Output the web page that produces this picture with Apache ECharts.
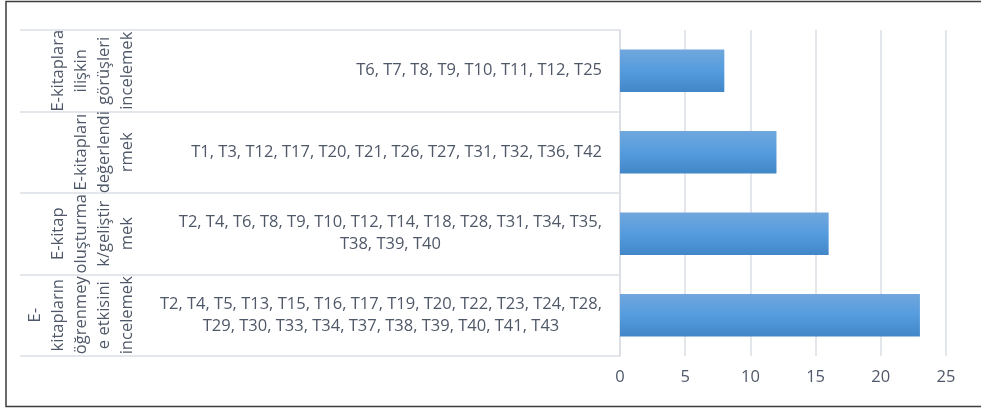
<!DOCTYPE html>
<html>
<head>
<meta http-equiv="Content-Type" content="text/html; charset=UTF-8">
<title>E-kitap</title>
<script type="text/javascript" src="https://cdn.jsdelivr.net/npm/echarts@6/dist/echarts.min.js"></script>
<style>
    body { margin: 0; background: #fff; }
</style>
</head>
<body>
    <div id="main" style="width: 981px; height: 409px;"></div>
    <script type="text/javascript">
        // ust seviye kategoriler (dondurulmus etiketler), yukaridan asagi
        var groups = [
            'E-kitaplara\nilişkin\ngörüşleri\nincelemek',
            'E-kitapları\ndeğerlendi\nrmek',
            'E-kitap\noluşturma\nk/geliştir\nmek',
            'E-\nkitapların\nöğrenmey\ne etkisini\nincelemek'
        ];
        // alt seviye: calisma kodlari (satir kirilimlari resimdeki gibi)
        var studies = [
            'T6, T7, T8, T9, T10, T11, T12, T25',
            'T1, T3, T12, T17, T20, T21, T26, T27, T31, T32, T36, T42',
            'T2, T4, T6, T8, T9, T10, T12, T14, T18, T28, T31, T34, T35,\nT38, T39, T40',
            'T2, T4, T5, T13, T15, T16, T17, T19, T20, T22, T23, T24, T28,\nT29, T30, T33, T34, T37, T38, T39, T40, T41, T43'
        ];
        var counts = [8, 12, 16, 23];
        var xTicks = { min: 0, max: 25, interval: 5 };

        var textColor = '#4f5868';
        var lineColor = '#dadee5';
        var font = '"Open Sans", sans-serif';

        var myChart = echarts.init(document.getElementById('main'));
        myChart.setOption({
            animation: false,
            textStyle: { fontFamily: font },
            graphic: [{
                type: 'rect',
                shape: { x: 6, y: 1.5, width: 1000, height: 405 },
                style: { fill: 'none', stroke: '#3d3d3d', lineWidth: 1.5 },
                silent: true
            }],
            grid: {
                left: 620,
                right: 35,
                top: 30,
                bottom: 53,
                containLabel: false,
                outerBoundsMode: 'none'
            },
            xAxis: {
                type: 'value',
                min: xTicks.min,
                max: xTicks.max,
                interval: xTicks.interval,
                axisLine: { show: false },
                axisTick: { show: false },
                splitLine: { lineStyle: { color: lineColor, width: 1.5 } },
                axisLabel: { color: textColor, fontSize: 16.5, fontFamily: font, margin: 13 }
            },
            yAxis: [{
                type: 'category',
                data: studies,
                inverse: true,
                position: 'left',
                axisLine: { show: true, lineStyle: { color: lineColor, width: 1.5 } },
                axisTick: { show: true, length: 600, lineStyle: { color: lineColor, width: 1.5 } },
                splitLine: { show: false },
                axisLabel: {
                    interval: 0,
                    margin: 18,
                    color: textColor,
                    fontSize: 16.5,
                    fontFamily: font,
                    lineHeight: 22,
                    formatter: function (value) {
                        return value.split('\n').map(function (s) {
                            return '{c|' + s + '}';
                        }).join('\n');
                    },
                    rich: {
                        c: { align: 'center', color: textColor, fontSize: 16.5, fontFamily: font, lineHeight: 22 }
                    }
                }
            }, {
                type: 'category',
                data: groups,
                inverse: true,
                position: 'left',
                offset: 473,
                axisLine: { show: false },
                axisTick: { show: false },
                splitLine: { show: false },
                axisLabel: {
                    interval: 0,
                    rotate: 90,
                    margin: 8,
                    color: textColor,
                    fontSize: 16.5,
                    fontFamily: font,
                    lineHeight: 23
                }
            }],
            series: [{
                type: 'bar',
                data: counts,
                yAxisIndex: 0,
                barWidth: '52%',
                itemStyle: {
                    color: new echarts.graphic.LinearGradient(0, 0, 0, 1, [
                        { offset: 0, color: '#70a7dd' },
                        { offset: 0.5, color: '#559cde' },
                        { offset: 1, color: '#4187c8' }
                    ])
                }
            }]
        });
    </script>
</body>
</html>
